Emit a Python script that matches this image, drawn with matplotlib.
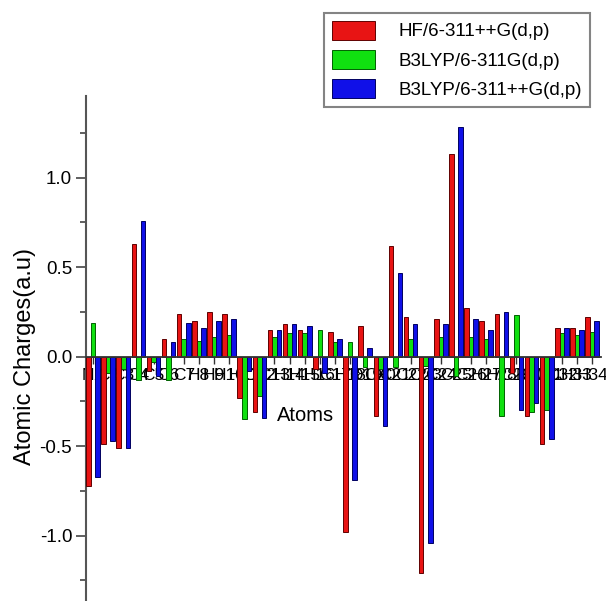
import numpy as np
import matplotlib
matplotlib.use('Agg')
import matplotlib.pyplot as plt

plt.rcParams['font.family'] = ['Liberation Sans', 'DejaVu Sans']

# atomes et charges (a.u)
atoms = ['N1', 'C2', 'C3', 'C4', 'C5', 'C6', 'C7', 'H8', 'H9', 'H10', 'H11', 'O12',
         'C13', 'H14', 'H15', 'H16', 'C17', 'H18', 'O19', 'C20', 'C21', 'C22', 'O23',
         'C24', 'C25', 'C26', 'H27', 'H28', 'C29', 'N30', 'C31', 'C32', 'H33', 'H34']

hf = [-0.72, -0.49, -0.51, 0.63, -0.08, 0.10, 0.24, 0.20, 0.25, 0.24, -0.23, -0.31,
      0.15, 0.18, 0.15, -0.07, 0.14, -0.98, 0.17, -0.33, 0.62, 0.22, -1.21,
      0.21, 1.13, 0.27, 0.20, 0.24, -0.09, -0.33, -0.49, 0.16, 0.16, 0.22]

b3lyp = [0.19, -0.09, -0.07, -0.13, -0.03, -0.13, 0.10, 0.09, 0.11, 0.12, -0.35, -0.22,
         0.11, 0.13, 0.13, 0.15, 0.08, 0.08, -0.06, -0.07, -0.06, 0.10, -0.05,
         0.11, -0.11, 0.11, 0.10, -0.33, 0.23, -0.31, -0.30, 0.13, 0.12, 0.14]

b3lyp_diff = [-0.67, -0.47, -0.51, 0.76, -0.11, 0.08, 0.19, 0.16, 0.20, 0.21, -0.08, -0.34,
              0.15, 0.18, 0.17, -0.09, 0.10, -0.69, 0.05, -0.39, 0.47, 0.18, -1.04,
              0.18, 1.28, 0.21, 0.15, 0.25, -0.30, -0.26, -0.46, 0.16, 0.15, 0.20]

x = np.arange(1, len(atoms) + 1)
w = 0.3

fig = plt.figure(figsize=(6.06, 6.01), dpi=100)
ax = fig.add_axes([0.142, -0.0403, 0.850, 0.8806])

ax.bar(x, b3lyp, w, color='#10e010', edgecolor='#006000', linewidth=0.7,
       label='B3LYP/6-311G(d,p)', zorder=2)
ax.bar(x - w, hf, w, color='#e81414', edgecolor='#600000', linewidth=0.7,
       label='HF/6-311++G(d,p)', zorder=3)
ax.bar(x + w, b3lyp_diff, w, color='#1010e8', edgecolor='#000060', linewidth=0.7,
       label='B3LYP/6-311++G(d,p)', zorder=3)

ax.set_xlim(0.54, 34.6)
ax.set_ylim(-1.5, 1.456)

# axes style Origin
for s in ['top', 'right']:
    ax.spines[s].set_visible(False)
ax.spines['bottom'].set_position(('data', 0))
ax.spines['bottom'].set_color('#333333')
ax.spines['left'].set_color('#555555')
ax.spines['left'].set_linewidth(1.5)
ax.spines['bottom'].set_linewidth(1.3)
ax.spines['bottom'].set_zorder(4)

ax.set_yticks([-1.0, -0.5, 0.0, 0.5, 1.0])
ax.set_yticklabels(['-1.0', '-0.5', '0.0', '0.5', '1.0'])
ax.set_yticks(np.arange(-1.25, 1.5, 0.25), minor=True)
ax.tick_params(axis='y', which='major', direction='out', length=7, width=1.2,
               color='#444444', labelsize=13.5, pad=3)
ax.tick_params(axis='y', which='minor', direction='out', length=4, width=1.2,
               color='#444444')

ax.set_xticks(x)
ax.set_xticklabels(atoms)
ax.tick_params(axis='x', direction='out', length=5, width=1, color='#333333',
               labelsize=12.5, pad=3)

ax.set_ylabel('Atomic Charges(a.u)', fontsize=17)
ax.yaxis.set_label_coords(-0.098, 0.507)
ax.set_xlabel('Atoms', fontsize=14.5)
ax.xaxis.set_label_coords(0.427, 0.414)

handles, labels = ax.get_legend_handles_labels()
order = [1, 0, 2]
leg = ax.legend([handles[i] for i in order], [labels[i] for i in order],
                loc='upper right', bbox_to_anchor=(590 / 606, 1 - 13 / 601),
                bbox_transform=fig.transFigure, fontsize=13.5, fancybox=False,
                handlelength=2.3, handleheight=1.2, handletextpad=1.3,
                labelspacing=0.5, borderpad=0.4, borderaxespad=0)
leg.get_frame().set_edgecolor('#666666')
leg.get_frame().set_linewidth(1.5)

fig.savefig('out.png', dpi=100)
